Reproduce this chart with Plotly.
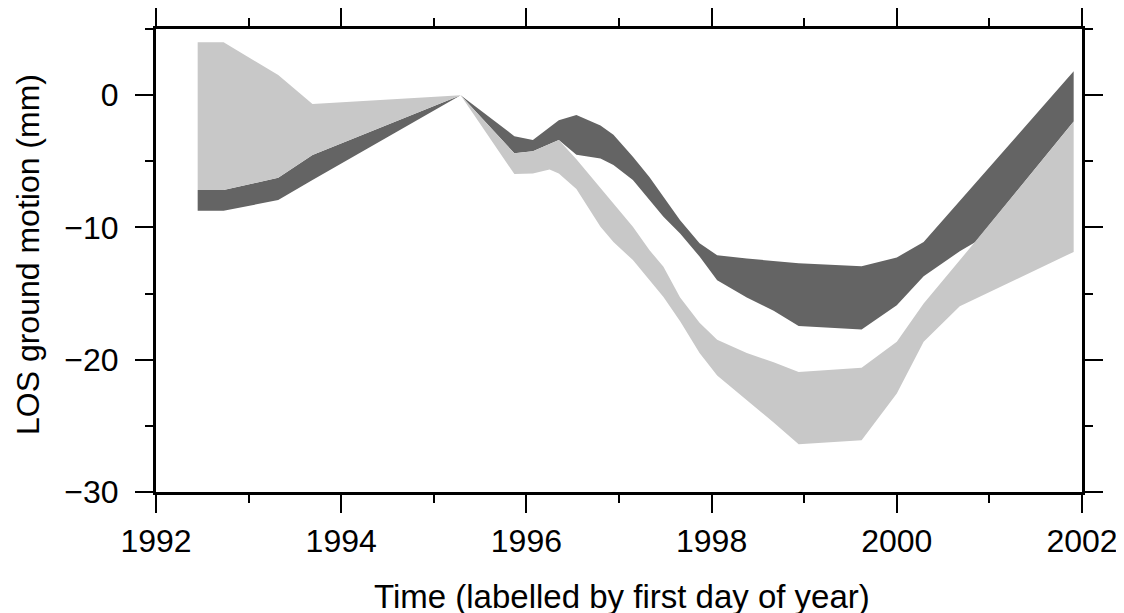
import plotly.graph_objects as go

# Dates (decimal years) of the SAR acquisitions
dates = [1992.45, 1992.73, 1993.32, 1993.69, 1995.29, 1995.87, 1996.07, 1996.25,
         1996.35, 1996.54, 1996.80, 1996.94, 1997.15, 1997.33, 1997.48, 1997.66,
         1997.87, 1998.06, 1998.38, 1998.67, 1998.94, 1999.62, 2000.00, 2000.29,
         2000.68, 2000.85, 2001.91]

# Dark band (upper / lower envelope, mm)
dark_top = [-7.18, -7.18, -6.25, -4.53, 0.0, -3.10, -3.40, -2.45,
            -1.90, -1.50, -2.30, -3.00, -4.66, -6.20, -7.70, -9.45,
            -11.20, -12.10, -12.35, -12.55, -12.70, -12.93, -12.27, -11.10,
            -8.00, -6.65, 1.80]
dark_bot = [-8.74, -8.74, -7.93, -6.42, 0.0, -4.40, -4.25, -3.70,
            -3.40, -4.50, -4.78, -5.29, -6.42, -7.90, -9.20, -10.45,
            -12.20, -13.99, -15.30, -16.30, -17.45, -17.72, -15.88, -13.70,
            -11.80, -11.10, -2.00]

# Light band (upper / lower envelope, mm)
light_top = [4.00, 4.00, 1.52, -0.67, 0.0, -4.40, -4.25, -3.70,
             -3.40, -4.85, -7.05, -8.18, -9.95, -11.72, -12.98, -15.30,
             -17.20, -18.50, -19.50, -20.20, -20.92, -20.60, -18.65, -15.75,
             -12.50, -11.05, -2.00]
light_bot = [-7.18, -7.18, -6.25, -4.53, 0.0, -5.97, -5.92, -5.62,
             -5.92, -7.10, -9.95, -11.10, -12.47, -13.99, -15.25, -17.10,
             -19.50, -21.20, -23.06, -24.75, -26.39, -26.09, -22.56, -18.65,
             -15.95, -15.40, -11.85]

x_ticks = [1992, 1994, 1996, 1998, 2000, 2002]
y_ticks = [-30, -20, -10, 0]
y_tick_text = ["\u221230", "\u221220", "\u221210", "0"]

DARK = "#646464"
LIGHT = "#c8c8c8"
FONT = "Liberation Sans, Arial, Helvetica, sans-serif"


def band(top, bot, color):
    return go.Scatter(
        x=dates + dates[::-1],
        y=top + bot[::-1],
        fill="toself",
        fillcolor=color,
        mode="lines",
        line=dict(width=0, color=color),
        hoverinfo="skip",
        showlegend=False,
    )


fig = go.Figure()
fig.add_trace(band(dark_top, dark_bot, DARK))
fig.add_trace(band(light_top, light_bot, LIGHT))

axis_common = dict(
    showgrid=False,
    zeroline=False,
    showline=True,
    linewidth=3,
    linecolor="black",
    mirror="allticks",
    ticks="outside",
    ticklen=18,
    tickwidth=1.5,
    tickcolor="black",
    automargin=False,
    tickfont=dict(family=FONT, size=32, color="black"),
)

fig.update_xaxes(
    range=[1992, 2002],
    tickvals=x_ticks,
    ticktext=[str(v) for v in x_ticks],
    ticklabelstandoff=1,
    minor=dict(dtick=1, tick0=1992, ticks="outside", ticklen=8, tickwidth=1.5, tickcolor="black"),
    **axis_common,
)
fig.update_yaxes(
    range=[-30, 5],
    tickvals=y_ticks,
    ticktext=y_tick_text,
    ticklabelstandoff=10,
    minor=dict(dtick=5, tick0=0, ticks="outside", ticklen=8, tickwidth=1.5, tickcolor="black"),
    **axis_common,
)

fig.add_annotation(
    text="Time (labelled by first day of year)",
    xref="paper", yref="paper", x=0.503, y=-0.2264,
    xanchor="center", yanchor="middle", showarrow=False,
    font=dict(family=FONT, size=33, color="black"),
)
fig.add_annotation(
    text="LOS ground motion (mm)",
    xref="paper", yref="paper", x=-0.1382, y=0.5119,
    xanchor="center", yanchor="middle", showarrow=False, textangle=-90,
    font=dict(family=FONT, size=32, color="black"),
)

fig.update_layout(
    width=1124,
    height=613,
    margin=dict(l=148, r=50, t=21, b=129),
    paper_bgcolor="white",
    plot_bgcolor="white",
    showlegend=False,
)

fig.write_html("out.html")
